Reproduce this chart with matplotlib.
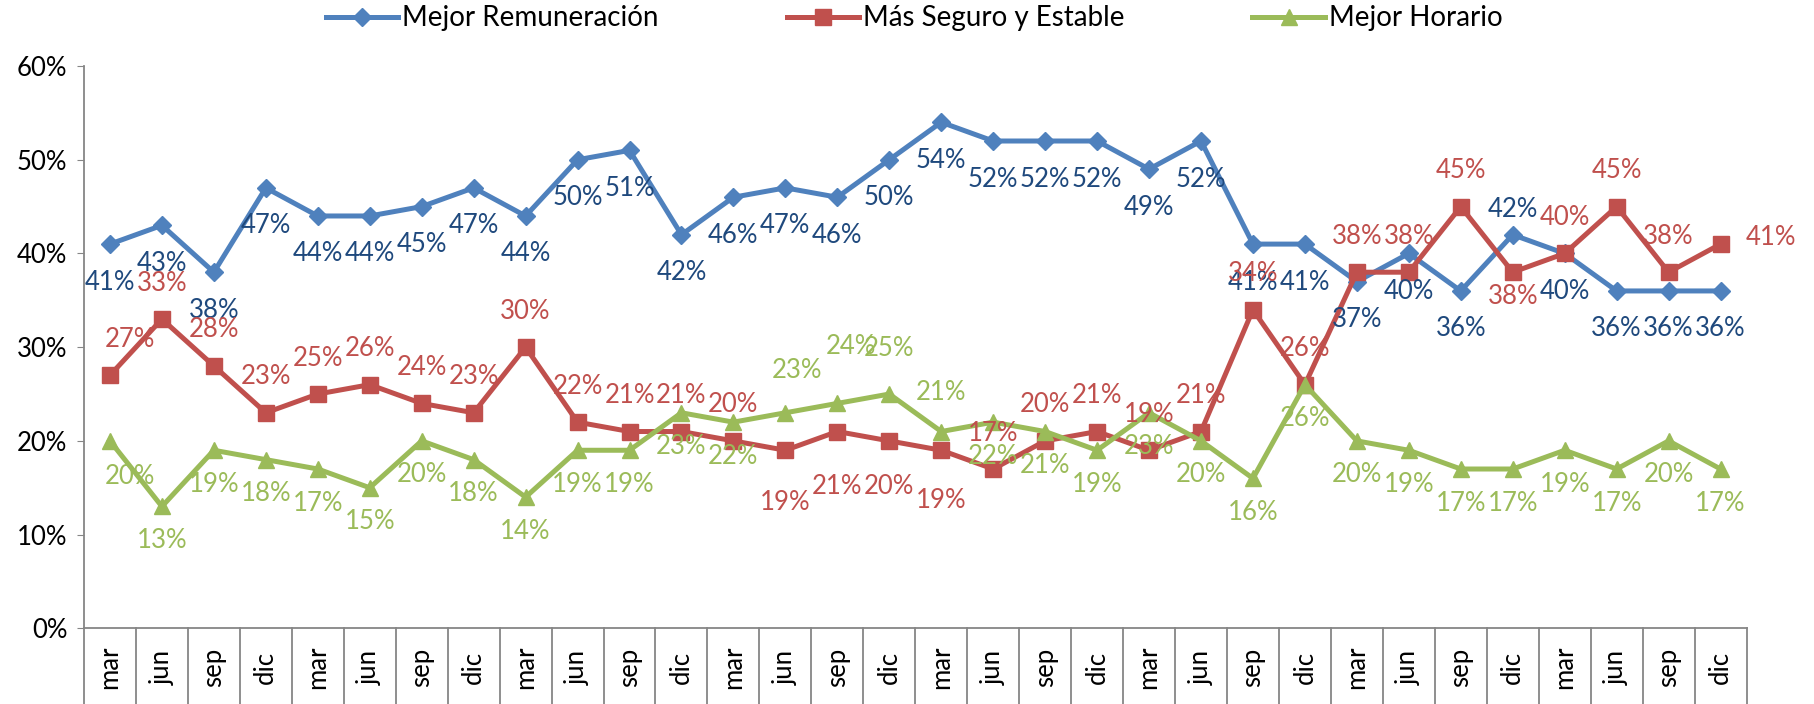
import matplotlib.pyplot as plt
from matplotlib.ticker import PercentFormatter
from matplotlib.transforms import blended_transform_factory

plt.rcParams['font.family'] = ['Lato', 'DejaVu Sans']

# Data (percent)
months = ['mar', 'jun', 'sep', 'dic'] * 8
remuneracion = [41, 43, 38, 47, 44, 44, 45, 47, 44, 50, 51, 42, 46, 47, 46, 50,
                54, 52, 52, 52, 49, 52, 41, 41, 37, 40, 36, 42, 40, 36, 36, 36]
seguro = [27, 33, 28, 23, 25, 26, 24, 23, 30, 22, 21, 21, 20, 19, 21, 20,
          19, 17, 20, 21, 19, 21, 34, 26, 38, 38, 45, 38, 40, 45, 38, 41]
horario = [20, 13, 19, 18, 17, 15, 20, 18, 14, 19, 19, 23, 22, 23, 24, 25,
           21, 22, 21, 19, 23, 20, 16, 26, 20, 19, 17, 17, 19, 17, 20, 17]

n = len(months)
x = list(range(n))

# label offsets in pixels (layout only)
rem_off = [(0, -38)] * n
rem_off[27] = (0, 25)
seg_off = [(0, 36)] * n
seg_off[0] = (20, 36)
seg_off[13] = (0, -52)
seg_off[14] = (0, -55)
seg_off[15] = (0, -46)
seg_off[16] = (0, -50)
seg_off[27] = (0, -24)
seg_off[31] = (50, 7)
hor_off = [(0, -34)] * n
hor_off[0] = (20, -36)
hor_off[13] = (12, 42)
hor_off[14] = (14, 57)
hor_off[15] = (0, 46)
hor_off[16] = (0, 39)

fig = plt.figure(figsize=(18.14, 7.04), dpi=100)
ax = fig.add_axes([0.0463, 0.1075, 0.9165, 0.7987])

series = [
    (remuneracion, 'Mejor Remuneración', '#4F81BD', '#1F497D', 'D', 9, rem_off),
    (seguro, 'Más Seguro y Estable', '#C0504D', '#C0504D', 's', 11, seg_off),
    (horario, 'Mejor Horario', '#9BBB59', '#9BBB59', '^', 12, hor_off),
]
for vals, name, col, lcol, mk, ms, offs in series:
    ax.plot(x, vals, color=col, lw=3.6, marker=mk, ms=ms, label=name)
    for i, v in enumerate(vals):
        ax.annotate(f'{v}%', (i, v), xytext=offs[i], textcoords='offset pixels',
                    ha='center', va='center', color=lcol, fontsize=18.5)

ax.set_xlim(-0.5, n - 0.5)
ax.set_ylim(0, 60)
ax.set_yticks(range(0, 61, 10))
ax.yaxis.set_major_formatter(PercentFormatter(decimals=0))
ax.tick_params(axis='y', labelsize=18.5, length=5, color='#868686', pad=7)

ax.set_xticks(x)
ax.set_xticklabels(months, rotation=90, va='center', ha='center', fontsize=18.5)
ax.tick_params(axis='x', length=0, pad=28)

for s in ['top', 'right']:
    ax.spines[s].set_visible(False)
for s in ['left', 'bottom']:
    ax.spines[s].set_color('#868686')
    ax.spines[s].set_linewidth(1.3)

# category separators below the axis
trans = blended_transform_factory(ax.transData, ax.transAxes)
for b in range(n + 1):
    ax.plot([b - 0.5, b - 0.5], [0, -0.15], transform=trans, color='#868686',
            lw=1.3, clip_on=False)

fig.legend(loc='center', bbox_to_anchor=(0.504, 0.974), ncol=3, frameon=False,
           fontsize=20, handlelength=2.6, handletextpad=0.15, columnspacing=4.6)

fig.savefig('out.png', dpi=100)
